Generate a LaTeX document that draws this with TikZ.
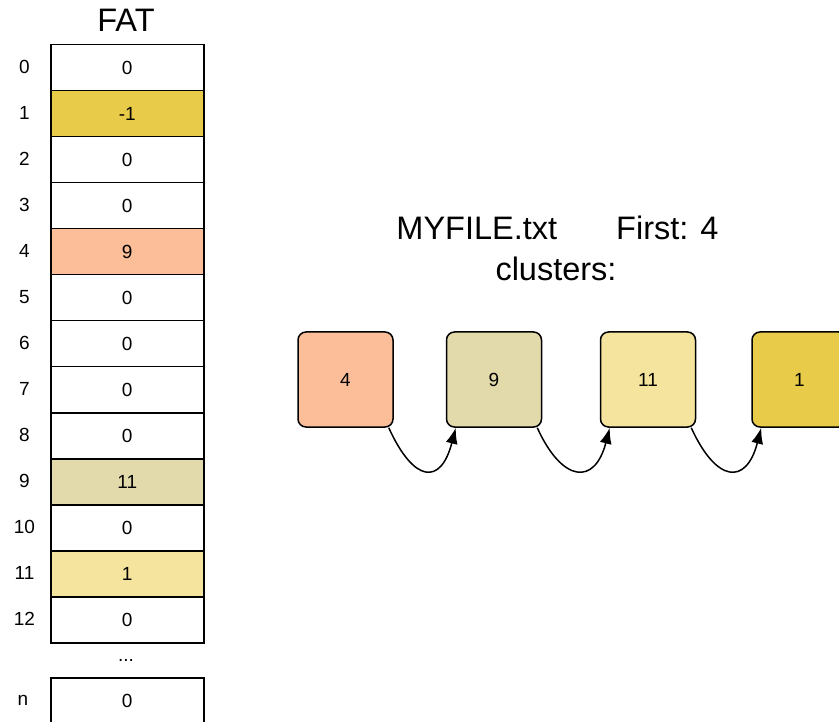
\documentclass[tikz,border=0pt]{standalone}
\usepackage{fontspec}
\setmainfont{Liberation Sans}
\usetikzlibrary{arrows.meta,calc}
\definecolor{cyel}{HTML}{E8CB48}
\definecolor{corange}{HTML}{FBBE99}
\definecolor{ctan}{HTML}{E3DAAC}
\definecolor{clight}{HTML}{F5E49E}
\begin{document}
\begin{tikzpicture}[x=1pt,y=-1pt,
  cell/.style={draw=black, line width=1.5pt, minimum width=153pt, minimum height=46pt,
    inner sep=0pt, font=\fontsize{19}{21}\selectfont, anchor=north west},
  lbl/.style={inner sep=0pt, font=\fontsize{19}{21}\selectfont},
  cbox/.style={draw=black, line width=1.5pt, rounded corners=8pt, minimum width=95pt,
    minimum height=95pt, inner sep=0pt, font=\fontsize{19}{21}\selectfont},
  big/.style={inner sep=0pt, anchor=base, font=\fontsize{32.5}{39}\selectfont},
  arr/.style={line width=1.5pt, -{Latex[length=16pt,width=12pt]}}]
\useasboundingbox (0,0) rectangle (839,722);
\clip (0,0) rectangle (839,722);
\node[big] (fat) at (126,32) {FAT};
\foreach \i/\v/\c in {0/0/white,1/-1/cyel,2/0/white,3/0/white,4/9/corange,5/0/white,6/0/white,7/0/white,8/0/white,9/11/ctan,10/0/white,11/1/clight,12/0/white}{
  \node[cell, fill=\c] (r\i) at (50,44+46*\i) {\v};
  \node[lbl] (l\i) at (24.5,67+46*\i) {\i};
}
\node[font=\fontsize{19}{21}\selectfont, inner sep=0pt] (dots) at (126,660) {...};
\node[cell, fill=white] (rn) at (50,677) {0};
\node[lbl] (ln) at (23,700) {n};

\node[big] (t1) at (557.5,240) {MYFILE.txt\hspace{59pt}First: 4};
\node[big] (t2) at (556,281) {clusters:};

\node[cbox, fill=corange] (c4) at (345.5,379.5) {4};
\node[cbox, fill=ctan] (c9) at (494,379.5) {9};
\node[cbox, fill=clight] (c11) at (648,379.5) {11};
\node[cbox, fill=cyel] (c1) at (799.5,379.5) {1};

\draw[arr] ([xshift=-5pt]c4.south east) .. controls +(25,55) and +(-15,58) .. ([xshift=10pt]c9.south west);
\draw[arr] ([xshift=-5pt]c9.south east) .. controls +(25,55) and +(-15,58) .. ([xshift=10pt]c11.south west);
\draw[arr] ([xshift=-5pt]c11.south east) .. controls +(25,55) and +(-15,58) .. ([xshift=10pt]c1.south west);
\end{tikzpicture}
\end{document}
